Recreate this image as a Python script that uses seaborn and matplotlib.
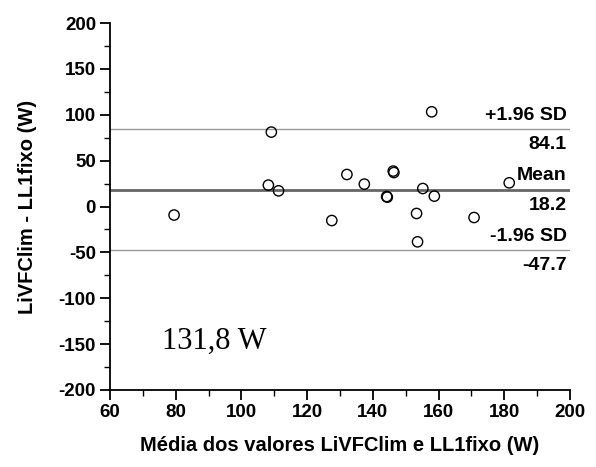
import numpy as np
import pandas as pd
import matplotlib
matplotlib.use("Agg")
import matplotlib.pyplot as plt
import seaborn as sns
from matplotlib.ticker import MultipleLocator

# Data
mean_vals = [79.5, 108.2, 109.1, 111.3, 127.5, 132.1, 137.4, 144.2, 144.4, 146.2, 146.4,
             153.3, 153.6, 155.2, 157.9, 158.7, 170.8, 181.5]
diff_vals = [-9.3, 23.3, 81.1, 17.1, -15.3, 34.9, 24.4, 10.9, 10.2, 38.6, 37.0,
             -7.6, -38.5, 19.6, 103.2, 11.3, -12.0, 25.8]
bias = 18.2
upper = 84.1
lower = -47.7
line_labels = ["+1.96 SD", "Mean", "-1.96 SD"]
line_values = [upper, bias, lower]
annotation = "131,8 W"

df = pd.DataFrame({"m": mean_vals, "d": diff_vals})

sns.set_style("ticks", {"text.color": "black", "xtick.color": "black",
                        "ytick.color": "black", "axes.labelcolor": "black",
                        "axes.edgecolor": "black"})
plt.rcParams['font.family'] = ['Liberation Sans', 'DejaVu Sans']
plt.rcParams['axes.unicode_minus'] = False

fig = plt.figure(figsize=(5.96, 4.67), dpi=100)
ax = fig.add_axes([110/596, 77/467, 460/596, 367/467])

# limit lines
ax.axhline(upper, color="#999999", lw=1.0, zorder=1)
ax.axhline(lower, color="#999999", lw=1.0, zorder=1)
ax.axhline(bias, color="#666666", lw=2.0, zorder=1)

sns.scatterplot(data=df, x="m", y="d", ax=ax, marker="o", s=55,
                facecolors="none", edgecolor="black", linewidth=1.0, zorder=3)

ax.set_xlim(60, 200)
ax.set_ylim(-200, 200)
ax.xaxis.set_major_locator(MultipleLocator(20))
ax.xaxis.set_minor_locator(MultipleLocator(10))
ax.yaxis.set_major_locator(MultipleLocator(50))
ax.yaxis.set_minor_locator(MultipleLocator(25))
ax.tick_params(which="major", direction="out", length=7, width=1.3, color="black",
               labelcolor="black", labelsize=13.5, pad=3)
ax.tick_params(which="minor", direction="out", length=4.5, width=1.0, color="black")
for lab in ax.get_xticklabels() + ax.get_yticklabels():
    lab.set_fontweight("bold")

for side in ["top", "right"]:
    ax.spines[side].set_visible(False)
for side in ["left", "bottom"]:
    ax.spines[side].set_color("black")
    ax.spines[side].set_linewidth(1.3)

ax.set_xlabel("Média dos valores LiVFClim e LL1fixo (W)", fontsize=14.5, fontweight="bold",
              labelpad=11, color="black")
ax.set_ylabel("LiVFClim - LL1fixo (W)", fontsize=14.5, fontweight="bold", labelpad=16,
              color="black")

# line labels
for lab, val in zip(line_labels, line_values):
    ax.annotate(lab, xy=(199, val), xytext=(0, 4), textcoords="offset points",
                ha="right", va="bottom", fontsize=14, fontweight="bold", color="black")
    ax.annotate(f"{val:.1f}", xy=(199, val), xytext=(0, -5), textcoords="offset points",
                ha="right", va="top", fontsize=14, fontweight="bold", color="black")

ax.text(75.8, -155, annotation, fontsize=22, family=["Liberation Serif", "DejaVu Serif"],
        ha="left", va="baseline", color="black")

fig.savefig("out.png", dpi=100)
